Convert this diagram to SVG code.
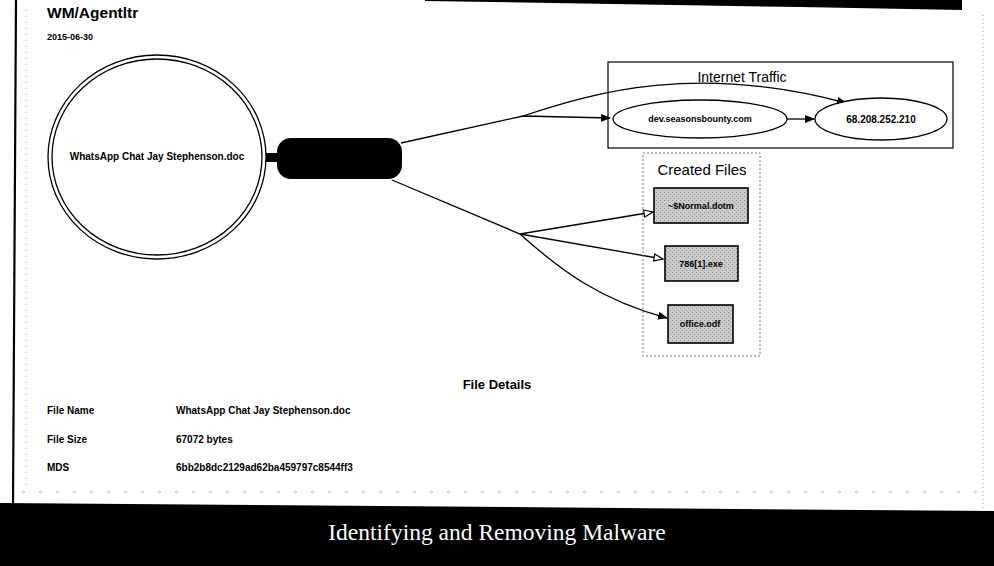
<svg xmlns="http://www.w3.org/2000/svg" width="994" height="566" viewBox="0 0 994 566">
<style>
  .sans{font-family:"Liberation Sans",Arial,sans-serif;fill:#000}
  .b{font-weight:bold}
  .edge{fill:none;stroke:#000;stroke-width:1.3}
  .file{fill:url(#stip);stroke:#000;stroke-width:1.6}
</style>
<defs>
  <pattern id="stip" width="4" height="4" patternUnits="userSpaceOnUse">
    <rect width="4" height="4" fill="#cbcbcb"/>
    <rect x="0" y="0" width="1" height="1" fill="#8a8a8a"/>
    <rect x="2" y="2" width="1" height="1" fill="#9a9a9a"/>
  </pattern>
  <marker id="af" markerWidth="10" markerHeight="8" refX="9" refY="4" orient="auto" markerUnits="userSpaceOnUse">
    <path d="M0,0 L10,4 L0,8 Z" fill="#000"/>
  </marker>
  <marker id="ao" markerWidth="11" markerHeight="9" refX="10" refY="4.5" orient="auto" markerUnits="userSpaceOnUse">
    <path d="M1,1 L10,4.5 L1,8 Z" fill="#fff" stroke="#000" stroke-width="1.2"/>
  </marker>
</defs>
<rect width="994" height="566" fill="#fff"/>
<!-- page frame -->
<polygon points="425,0 962,0 962,10 800,7 425,1" fill="#000"/>
<path d="M16,0 L13,505" stroke="#000" stroke-width="2.2"/>
<path d="M26,10 L26,490" stroke="#aaa" stroke-width="1" stroke-dasharray="1,5"/>
<path d="M983,15 L983,510" stroke="#999" stroke-width="1" stroke-dasharray="1,3"/>
<path d="M22,492 L980,492" stroke="#aaa" stroke-width="1" stroke-dasharray="3,14"/>

<text class="sans b" x="47" y="18" font-size="15.5">WM/Agentltr</text>
<text class="sans b" x="47" y="40" font-size="9">2015-06-30</text>

<g id="connectors">
  <rect x="262" y="153" width="17" height="9" fill="#000"/>
  <path class="edge" d="M401,143 L523,116 L610,118" marker-end="url(#af)"/>
  <path class="edge" d="M523,116 C600,90 700,64 846,103" marker-end="url(#af)"/>
  <path class="edge" d="M787,119 L814,119" marker-end="url(#af)"/>
  <path class="edge" d="M392,180 L520,234 L653,212" marker-end="url(#ao)"/>
  <path class="edge" d="M520,234 L663,259" marker-end="url(#ao)"/>
  <path class="edge" d="M520,234 C560,270 600,300 667,318" marker-end="url(#af)"/>
</g>

<g id="sample">
  <ellipse cx="157" cy="157" rx="109" ry="102" fill="#fff" stroke="#000" stroke-width="1.3"/>
  <ellipse cx="157" cy="157" rx="105" ry="98" fill="none" stroke="#000" stroke-width="1.3"/>
  <text class="sans" x="157" y="160" font-size="10" text-anchor="middle" font-weight="600">WhatsApp Chat Jay Stephenson.doc</text>
</g>

<g id="process">
  <rect x="277" y="138" width="125" height="41" rx="14" fill="#000"/>
</g>

<g id="internet-traffic">
  <rect x="608" y="62" width="345" height="86" fill="none" stroke="#000" stroke-width="1.2"/>
  <text class="sans" x="742" y="82" font-size="14" text-anchor="middle">Internet Traffic</text>
</g>
<g id="dev-seasonsbounty">
  <ellipse cx="700" cy="119" rx="87" ry="19" fill="#fff" stroke="#000" stroke-width="1.3"/>
  <text class="sans" x="700" y="122" font-size="9" text-anchor="middle" font-weight="600">dev.seasonsbounty.com</text>
</g>
<g id="ip">
  <ellipse cx="881" cy="119" rx="66" ry="21" fill="#fff" stroke="#000" stroke-width="1.3"/>
  <text class="sans" x="881" y="123" font-size="10" text-anchor="middle" font-weight="600">68.208.252.210</text>
</g>

<g id="created-files">
  <rect x="643" y="153" width="117" height="203" fill="none" stroke="#777" stroke-width="1" stroke-dasharray="2,2"/>
  <text class="sans" x="702" y="175" font-size="15" text-anchor="middle">Created Files</text>
</g>
<g id="normal-dotm">
  <rect class="file" x="654" y="188" width="94" height="35"/>
  <text class="sans" x="701" y="209" font-size="9" text-anchor="middle" font-weight="600">~$Normal.dotm</text>
</g>
<g id="exe">
  <rect class="file" x="665" y="246" width="73" height="35"/>
  <text class="sans" x="701" y="267" font-size="9" text-anchor="middle" font-weight="600">786[1].exe</text>
</g>
<g id="office-odf">
  <rect class="file" x="668" y="305" width="65" height="38"/>
  <text class="sans" x="700" y="327" font-size="9" text-anchor="middle" font-weight="600">office.odf</text>
</g>

<g id="file-details">
  <text class="sans b" x="497" y="389" font-size="13" text-anchor="middle">File Details</text>
  <text class="sans b" x="47" y="414" font-size="10">File Name</text>
  <text class="sans b" x="176" y="414" font-size="10">WhatsApp Chat Jay Stephenson.doc</text>
  <text class="sans b" x="47" y="443" font-size="10">File Size</text>
  <text class="sans" x="176" y="443" font-size="10" font-weight="600">67072 bytes</text>
  <text class="sans b" x="47" y="471" font-size="10">MDS</text>
  <text class="sans" x="176" y="471" font-size="10" font-weight="600">6bb2b8dc2129ad62ba459797c8544ff3</text>
</g>

<polygon points="0,503 994,511 994,566 0,566" fill="#000"/>
<text x="497" y="540" font-family="'Liberation Serif','Times New Roman',serif" font-size="23.5" fill="#fff" text-anchor="middle">Identifying and Removing Malware</text>
</svg>
